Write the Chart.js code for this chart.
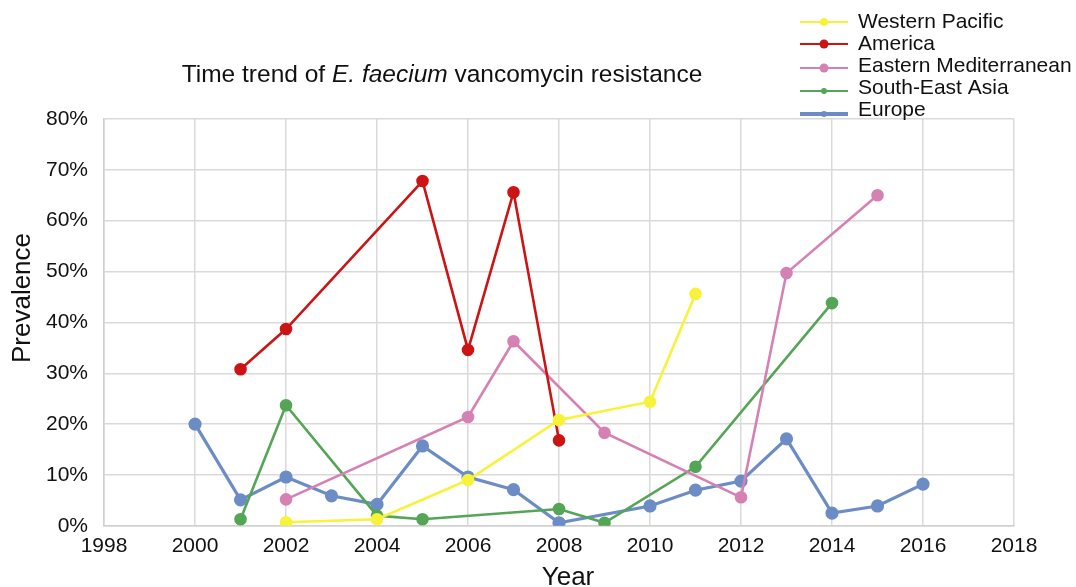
<!DOCTYPE html>
<html>
<head>
<meta charset="utf-8">
<script src="https://cdn.jsdelivr.net/npm/chart.js@4.4.1/dist/chart.umd.min.js"></script>
<style>
  html, body { margin: 0; padding: 0; background: #ffffff; }
  #wrap { width: 1076px; height: 587px; position: relative; }
</style>
</head>
<body>
<div id="wrap"><canvas id="trend-chart-canvas"></canvas></div>
<script>
// Values (prevalence in %)
const seriesNames = ["Western Pacific", "America", "Eastern Mediterranean", "South-East Asia", "Europe"];
const seriesColors = ["#f7f23a", "#cc1414", "#d681b4", "#55a557", "#6c8cc6"];

const westernPacificYears = [2002, 2004, 2006, 2008, 2010, 2011];
const westernPacificValues = [0.7, 1.3, 9.0, 20.8, 24.4, 45.6];

const americaYears = [2001, 2002, 2005, 2006, 2007, 2008];
const americaValues = [30.8, 38.7, 67.8, 34.6, 65.6, 16.8];

const easternMedYears = [2002, 2006, 2007, 2009, 2012, 2013, 2015];
const easternMedValues = [5.2, 21.4, 36.3, 18.3, 5.6, 49.7, 65.0];

const seAsiaYears = [2001, 2002, 2004, 2005, 2008, 2009, 2011, 2014];
const seAsiaValues = [1.3, 23.7, 2.0, 1.3, 3.3, 0.6, 11.6, 43.8];

const europeYears = [2000, 2001, 2002, 2003, 2004, 2005, 2006, 2007, 2008, 2010, 2011, 2012, 2013, 2014, 2015, 2016];
const europeValues = [20.0, 5.1, 9.6, 5.9, 4.2, 15.7, 9.6, 7.1, 0.6, 3.9, 7.0, 8.8, 17.1, 2.5, 3.9, 8.2];

const xTicks = [1998, 2000, 2002, 2004, 2006, 2008, 2010, 2012, 2014, 2016, 2018];
const yTicks = [0, 10, 20, 30, 40, 50, 60, 70, 80];

function toPoints(years, values) {
  return years.map((year, i) => ({ x: year, y: values[i] }));
}

const allYears = [westernPacificYears, americaYears, easternMedYears, seAsiaYears, europeYears];
const allValues = [westernPacificValues, americaValues, easternMedValues, seAsiaValues, europeValues];

const datasets = seriesNames.map((name, i) => ({
  label: name,
  data: toPoints(allYears[i], allValues[i]),
  borderColor: seriesColors[i],
  backgroundColor: seriesColors[i],
  borderWidth: i === 4 ? 3.2 : 2.6,
  pointRadius: 5,
  pointHoverRadius: 5,
  tension: 0,
}));

const fontFamily = "'Liberation Sans', Arial, sans-serif";

// Title with italic species name, plus the two axis titles, drawn by hand
const textPlugin = {
  id: "chartTexts",
  afterDraw(chart) {
    const ctx = chart.ctx;
    const parts = [
      { text: "Time trend of ", italic: false },
      { text: "E. faecium", italic: true },
      { text: " vancomycin resistance", italic: false },
    ];
    ctx.save();
    ctx.fillStyle = "#111111";
    ctx.textBaseline = "middle";
    let total = 0;
    for (const p of parts) {
      ctx.font = (p.italic ? "italic " : "") + "24.5px " + fontFamily;
      p.w = ctx.measureText(p.text).width;
      total += p.w;
    }
    let x = 442 - total / 2;
    for (const p of parts) {
      ctx.font = (p.italic ? "italic " : "") + "24.5px " + fontFamily;
      ctx.fillText(p.text, x, 75);
      x += p.w;
    }

    ctx.font = "26px " + fontFamily;
    ctx.textAlign = "center";
    ctx.fillText("Year", 568, 578);

    ctx.translate(23, 298);
    ctx.rotate(-Math.PI / 2);
    ctx.fillText("Prevalence", 0, 0);
    ctx.restore();
  },
};

// Legend at top right: line with a dot, then the name
const legendDot = [4, 4.5, 4.5, 3, 3];
const legendLine = [2, 2, 2, 2, 4];
const legendPlugin = {
  id: "cornerLegend",
  afterDraw(chart) {
    const ctx = chart.ctx;
    ctx.save();
    ctx.font = "21px " + fontFamily;
    ctx.textBaseline = "middle";
    chart.data.datasets.forEach((ds, i) => {
      const y = 22 + i * 22;
      const ly = y + (i >= 2 ? 2 + (i - 2) : 0);
      ctx.strokeStyle = ds.borderColor;
      ctx.lineWidth = legendLine[i];
      ctx.beginPath();
      ctx.moveTo(800, ly);
      ctx.lineTo(848, ly);
      ctx.stroke();
      ctx.fillStyle = ds.borderColor;
      ctx.beginPath();
      ctx.arc(824, ly, legendDot[i], 0, Math.PI * 2);
      ctx.fill();
      ctx.fillStyle = "#111111";
      ctx.fillText(ds.label, 858, y);
    });
    ctx.restore();
  },
};

const ctx = document.getElementById("trend-chart-canvas").getContext("2d");

new Chart(ctx, {
  type: "line",
  plugins: [textPlugin, legendPlugin],
  data: { datasets: datasets },
  options: {
    responsive: true,
    maintainAspectRatio: false,
    animation: false,
    layout: {
      padding: { top: 119, right: 62, left: 30, bottom: 20 },
    },
    scales: {
      x: {
        type: "linear",
        min: 1998,
        max: 2018,
        afterBuildTicks: (scale) => { scale.ticks = xTicks.map(v => ({ value: v })); },
        ticks: {
          color: "#111111",
          font: { size: 21, family: fontFamily },
          padding: 8,
          maxRotation: 0,
          callback: (value) => String(value),
        },
        grid: { color: "#d9d9d9", lineWidth: 1.5, drawTicks: false },
        border: { color: "#d0d0d0", width: 1.5 },
      },
      y: {
        min: 0,
        max: 80,
        afterBuildTicks: (scale) => { scale.ticks = yTicks.map(v => ({ value: v })); },
        ticks: {
          color: "#111111",
          font: { size: 21, family: fontFamily },
          padding: 16,
          callback: (value) => value + "%",
        },
        grid: { color: "#d9d9d9", lineWidth: 1.5, drawTicks: false },
        border: { color: "#d0d0d0", width: 1.5 },
      },
    },
    plugins: {
      legend: { display: false },
      title: { display: false },
      tooltip: { enabled: false },
    },
  },
});
</script>
</body>
</html>
